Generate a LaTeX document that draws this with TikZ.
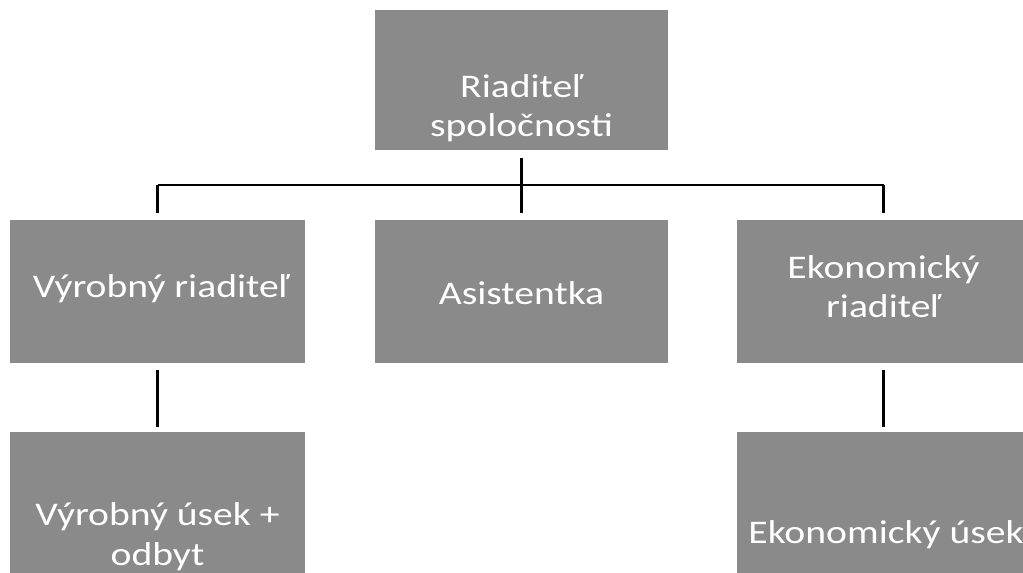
\documentclass[tikz,border=0pt]{standalone}
\usepackage{fontspec}
\setmainfont{Carlito}
\usetikzlibrary{positioning}
\definecolor{boxgray}{RGB}{138,138,138}

\begin{document}
\begin{tikzpicture}[x=0.02cm, y=-0.02cm,
    orgbox/.style={draw=none, fill=boxgray, inner sep=0pt, minimum width=5.86cm, minimum height=2.86cm},
    boxtext/.style={text=white, align=center, anchor=base, xscale=1.2, transform shape,
        font=\fontsize{18.8}{22.7}\selectfont},
    link/.style={draw=black, line width=1.6pt}]
\useasboundingbox (0,0) rectangle (1023,573);
\clip (0,0) rectangle (1023,573);

% boxes
\node[orgbox, minimum height=2.8cm] (ceo) at (521.5,80) {};
\node[orgbox, minimum width=5.9cm] (prod) at (157.5,291.5) {};
\node[orgbox] (asst) at (521.5,291.5) {};
\node[orgbox] (econ) at (883.5,291.5) {};
\node[orgbox, minimum width=5.9cm] (produsek) at (157.5,503.5) {};
\node[orgbox] (econusek) at (883.5,503.5) {};

% texts (base = last line)
\node[boxtext] (ceotxt) at (521.5,137) {Riaditeľ\\spoločnosti};
\node[boxtext] (prodtxt) at (161,298) {Výrobný riaditeľ};
\node[boxtext] (assttxt) at (521.5,305) {Asistentka};
\node[boxtext] (econtxt) at (883.5,318) {Ekonomický\\riaditeľ};
\node[boxtext] (produsektxt) at (157.5,565) {Výrobný úsek +\\odbyt};
\node[boxtext] (econusektxt) at (886,543) {Ekonomický úsek};

% connectors
\coordinate (bar) at (521.5,185);
\draw[link, shorten <=0.16cm, shorten >=0.14cm] (ceo) -- (asst);
\draw[link] (prod.north |- bar) -- (econ.north |- bar);
\draw[link, shorten >=0.14cm] (prod.north |- bar) -- (prod.north);
\draw[link, shorten >=0.14cm] (econ.north |- bar) -- (econ.north);
\draw[link, shorten <=0.14cm, shorten >=0.1cm] (prod) -- (produsek);
\draw[link, shorten <=0.14cm, shorten >=0.1cm] (econ) -- (econusek);

\end{tikzpicture}
\end{document}
